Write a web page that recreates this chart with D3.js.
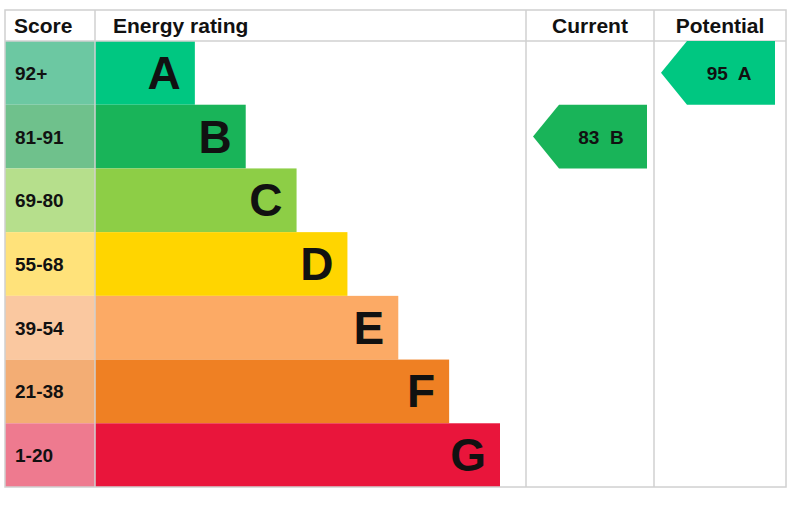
<!DOCTYPE html>
<html><head><meta charset="utf-8">
<script src="https://cdn.jsdelivr.net/npm/d3@7"></script>
<style>body{margin:0;background:#fff}text{font-family:"Liberation Sans",Arial,sans-serif;font-weight:bold}</style>
</head><body><div id="chart"></div>
<script>
// Data
const bands = ["A", "B", "C", "D", "E", "F", "G"];
const scores = ["92+", "81-91", "69-80", "55-68", "39-54", "21-38", "1-20"];
const barColors = ["#00c781", "#19b459", "#8dce46", "#ffd500", "#fcaa65", "#ef8023", "#e9153b"];
const scoreColors = ["#6cc8a2", "#6fc18c", "#b6df8c", "#ffe27a", "#fac8a0", "#f3ad74", "#ee7a8f"];
const barLength = [1, 2, 3, 4, 5, 6, 7];
const current = { value: 83, band: "B" };
const potential = { value: 95, band: "A" };

const W = 800, H = 522;
const gLeft = 5, gTop = 10, headH = 31, gBottom = 487;
const colScore = 95, colEnergy = 526, colCur = 654, colEnd = 786;

const svg = d3.select("#chart").append("svg").attr("width", W).attr("height", H);

const y = d3.scaleBand().domain(bands).range([gTop + headH, gBottom]);
const xBar = d3.scaleLinear().domain([0, 7]).range([colScore + 49, colScore + 405]);

// Header
const heads = [["Score", gLeft + 9, "start"], ["Energy rating", colScore + 18, "start"],
  ["Current", (colEnergy + colCur) / 2, "middle"], ["Potential", (colCur + colEnd) / 2, "middle"]];
svg.selectAll(".head").data(heads).join("text")
  .attr("x", d => d[1]).attr("y", gTop + 23).attr("text-anchor", d => d[2])
  .attr("font-size", 21).attr("fill", "#111").text(d => d[0]);

// Score cells
svg.selectAll(".score").data(bands).join("rect")
  .attr("x", gLeft).attr("y", d => y(d)).attr("width", colScore - gLeft).attr("height", y.bandwidth())
  .attr("fill", (d, i) => scoreColors[i]);
svg.selectAll(".scoreT").data(bands).join("text")
  .attr("x", gLeft + 10).attr("y", d => y(d) + y.bandwidth() / 2 + 7)
  .attr("font-size", 19).attr("fill", "#111").text((d, i) => scores[i]);

// Bars
svg.selectAll(".bar").data(bands).join("rect")
  .attr("x", colScore).attr("y", d => y(d)).attr("height", y.bandwidth())
  .attr("width", (d, i) => xBar(barLength[i]) - colScore)
  .attr("fill", (d, i) => barColors[i]);
svg.selectAll(".barT").data(bands).join("text")
  .attr("x", (d, i) => xBar(barLength[i]) - 14).attr("y", d => y(d) + y.bandwidth() / 2 + 16)
  .attr("text-anchor", "end").attr("font-size", 46).attr("fill", "#111").text(d => d);

// Grid lines
const g = svg.append("g").attr("stroke", "#d0d0d0").attr("stroke-width", 1.5).attr("fill", "none");
g.append("rect").attr("x", gLeft).attr("y", gTop).attr("width", colEnd - gLeft).attr("height", gBottom - gTop);
g.append("line").attr("x1", gLeft).attr("x2", colEnd).attr("y1", gTop + headH).attr("y2", gTop + headH);
[colScore, colEnergy, colCur].forEach(x => g.append("line").attr("x1", x).attr("x2", x).attr("y1", gTop).attr("y2", gBottom));

// Arrows
function arrow(rating, x0, x1) {
  const i = bands.indexOf(rating.band);
  const y0 = y(rating.band), h = y.bandwidth();
  svg.append("path")
    .attr("d", `M${x0},${y0 + h / 2}L${x0 + 26},${y0}L${x1},${y0}L${x1},${y0 + h}L${x0 + 26},${y0 + h}Z`)
    .attr("fill", barColors[i]);
  svg.append("text").attr("x", (x0 + 26 + x1) / 2 - 2).attr("y", y0 + h / 2 + 7)
    .attr("text-anchor", "middle").attr("font-size", 19).attr("fill", "#111")
    .attr("xml:space", "preserve").text(`${rating.value}  ${rating.band}`);
}
arrow(current, colEnergy + 7, colCur - 7);
arrow(potential, colCur + 7, colEnd - 11);
</script></body></html>
